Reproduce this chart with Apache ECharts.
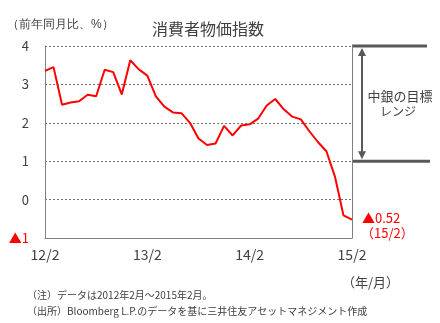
<!DOCTYPE html>
<html><head><meta charset="utf-8">
<script src="https://cdn.jsdelivr.net/npm/echarts@6/dist/echarts.min.js"></script>
<style>html,body{margin:0;padding:0;background:#fff}#c{width:440px;height:323px}</style>
</head><body><div id="c"></div>
<script>
const months = ['12/2','12/3','12/4','12/5','12/6','12/7','12/8','12/9','12/10','12/11','12/12',
  '13/1','13/2','13/3','13/4','13/5','13/6','13/7','13/8','13/9','13/10','13/11','13/12',
  '14/1','14/2','14/3','14/4','14/5','14/6','14/7','14/8','14/9','14/10','14/11','14/12',
  '15/1','15/2'];
const cpi = [3.35,3.45,2.47,2.53,2.56,2.73,2.69,3.38,3.32,2.74,3.63,
  3.39,3.23,2.69,2.42,2.27,2.25,2.00,1.59,1.42,1.46,1.92,1.67,
  1.93,1.96,2.11,2.45,2.62,2.35,2.16,2.09,1.78,1.50,1.26,0.60,
  -0.41,-0.52];
const xLabelMonths = ['12/2','13/2','14/2','15/2'];
const yMin = -1, yMax = 4, yStep = 1;
const targetRange = [1, 4];
const lastLabel = ['▲0.52', '（15/2）'];
const FONT = '"Noto Sans CJK JP", "Noto Sans", sans-serif';
const TXT = '#404040';

const chart = echarts.init(document.getElementById('c'));
chart.setOption({
  animation: false,
  backgroundColor: '#fff',
  textStyle: { fontFamily: FONT },
  title: { text: '消費者物価指数', left: 147, top: 16,
    textStyle: { fontSize: 16, fontWeight: 'normal', color: TXT, fontFamily: FONT } },
  grid: { left: 45, right: 88, top: 46, bottom: 85 },
  xAxis: {
    type: 'category', data: months, boundaryGap: false,
    axisLine: { onZero: false, lineStyle: { color: '#808080', width: 1 } },
    axisTick: { show: false },
    axisLabel: { interval: (i, v) => xLabelMonths.includes(v), color: TXT, fontSize: 14, margin: 10, fontFamily: FONT },
    splitLine: { show: false }
  },
  yAxis: [{
    type: 'value', min: yMin, max: yMax, interval: yStep,
    axisLine: { show: true, lineStyle: { color: '#808080', width: 1 } },
    axisTick: { show: false },
    axisLabel: { color: TXT, fontSize: 13, margin: 16, fontFamily: FONT,
      formatter: v => v < 0 ? '{neg|▲' + (-v) + '}' : String(v),
      rich: { neg: { color: '#ff0000', fontSize: 13, fontFamily: FONT } } },
    splitLine: { show: true, lineStyle: { color: '#707070', type: [2, 2], width: 1 } }
  }, {
    type: 'value', min: yMin, max: yMax, interval: yStep, position: 'right',
    axisLine: { show: true, lineStyle: { color: '#808080', width: 1 } },
    axisTick: { show: false }, axisLabel: { show: false }, splitLine: { show: false }
  }],
  series: [{
    type: 'line', data: cpi, symbol: 'none',
    lineStyle: { color: '#ff0000', width: 2 }
  }]
});

const xr = chart.convertToPixel({ xAxisIndex: 0 }, months[months.length - 1]);
const yT = chart.convertToPixel({ yAxisIndex: 0 }, targetRange[1]);
const yB = chart.convertToPixel({ yAxisIndex: 0 }, targetRange[0]);
const lp = chart.convertToPixel({ seriesIndex: 0 }, [months.length - 1, cpi[cpi.length - 1]]);
const ax = xr + 10;
const G = '#595959';

chart.setOption({
  graphic: [
    { type: 'text', left: 7, top: 19, style: { text: '（前年同月比、%）', fill: TXT, fontSize: 12, font: '12px ' + FONT } },
    { type: 'line', shape: { x1: xr, y1: yT, x2: xr + 75, y2: yT }, style: { stroke: G, lineWidth: 3 } },
    { type: 'line', shape: { x1: xr, y1: yB, x2: xr + 78, y2: yB }, style: { stroke: G, lineWidth: 3 } },
    { type: 'line', shape: { x1: ax, y1: yT + 6, x2: ax, y2: yB - 6 }, style: { stroke: G, lineWidth: 2 } },
    { type: 'polygon', shape: { points: [[ax, yT + 2], [ax - 4, yT + 10], [ax + 4, yT + 10]] }, style: { fill: G } },
    { type: 'polygon', shape: { points: [[ax, yB - 2], [ax - 4, yB - 10], [ax + 4, yB - 10]] }, style: { fill: G } },
    { type: 'text', x: xr + 48, y: (yT + yB) / 2 - 8, style: { text: '中銀の目標', fill: TXT, font: '13px ' + FONT, textAlign: 'center', textVerticalAlign: 'middle' } },
    { type: 'text', x: xr + 46, y: (yT + yB) / 2 + 8, style: { text: 'レンジ', fill: TXT, font: '12px ' + FONT, textAlign: 'center', textVerticalAlign: 'middle' } },
    { type: 'text', x: lp[0] + 10, y: lp[1] - 2, style: { text: lastLabel[0], fill: '#ff0000', font: '13px ' + FONT, textVerticalAlign: 'middle' } },
    { type: 'text', x: lp[0] + 9, y: lp[1] + 13, style: { text: lastLabel[1], fill: '#ff0000', font: '13px ' + FONT, textVerticalAlign: 'middle' } },
    { type: 'text', x: 342, y: 282, style: { text: '（年/月）', fill: TXT, font: '13px ' + FONT, textVerticalAlign: 'middle' } },
    { type: 'text', x: 27, y: 295, style: { text: '（注）データは2012年2月～2015年2月。', fill: TXT, font: '10px ' + FONT, textVerticalAlign: 'middle' } },
    { type: 'text', x: 27, y: 311, style: { text: '（出所）Bloomberg L.P.のデータを基に三井住友アセットマネジメント作成', fill: TXT, font: '10px ' + FONT, textVerticalAlign: 'middle' } }
  ]
});
</script></body></html>
